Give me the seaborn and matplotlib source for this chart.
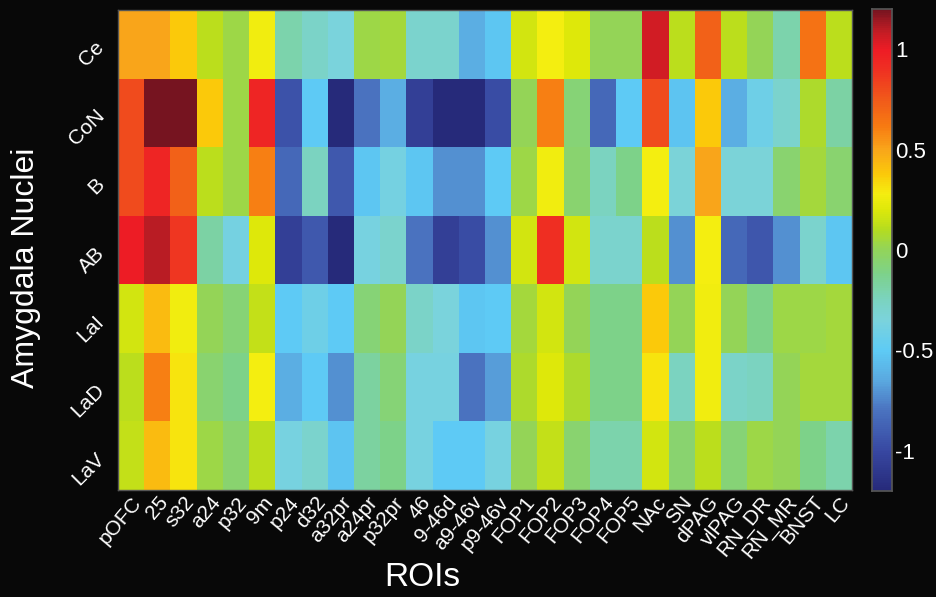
import numpy as np
import pandas as pd
import matplotlib
matplotlib.use("Agg")
import matplotlib.pyplot as plt
import seaborn as sns
from matplotlib.colors import LinearSegmentedColormap

rois = ["pOFC", "25", "s32", "a24", "p32", "9m", "p24", "d32", "a32pr", "a24pr",
        "p32pr", "46", "9-46d", "a9-46v", "p9-46v", "FOP1", "FOP2", "FOP3", "FOP4",
        "FOP5", "NAc", "SN", "dPAG", "vlPAG", "RN_DR", "RN_MR", "BNST", "LC"]
nuclei = ["Ce", "CoN", "B", "AB", "LaI", "LaD", "LaV"]

ce  = [0.50, 0.50, 0.38, 0.12, 0.03, 0.27, -0.20, -0.28, -0.35, 0.03, 0.05, -0.30, -0.30, -0.62,
       -0.52, 0.17, 0.28, 0.20, 0.00, 0.00, 1.05, 0.12, 0.72, 0.12, 0.00, -0.20, 0.65, 0.12]
con = [0.80, 1.20, 1.20, 0.38, 0.03, 0.95, -0.95, -0.50, -1.20, -0.80, -0.62, -1.05, -1.20, -1.20,
       -0.98, 0.00, 0.60, -0.07, -0.85, -0.50, 0.80, -0.53, 0.38, -0.62, -0.42, -0.30, 0.08, -0.18]
b   = [0.80, 0.95, 0.72, 0.12, 0.03, 0.60, -0.85, -0.25, -0.92, -0.52, -0.38, -0.52, -0.72, -0.72,
       -0.50, 0.03, 0.27, -0.05, -0.25, -0.12, 0.28, -0.33, 0.50, -0.33, -0.33, -0.05, 0.05, -0.05]
ab  = [1.00, 1.10, 0.88, -0.18, -0.38, 0.20, -1.05, -0.92, -1.20, -0.37, -0.30, -0.80, -1.05, -0.98,
       -0.72, 0.17, 0.90, 0.17, -0.30, -0.30, 0.12, -0.72, 0.28, -0.85, -0.93, -0.72, -0.30, -0.52]
lai = [0.17, 0.43, 0.27, 0.00, -0.07, 0.14, -0.50, -0.42, -0.50, -0.07, 0.00, -0.28, -0.35, -0.52,
       -0.50, 0.05, 0.17, 0.00, -0.12, -0.12, 0.38, 0.00, 0.27, 0.00, -0.12, 0.03, 0.03, 0.05]
lad = [0.12, 0.60, 0.30, -0.05, -0.12, 0.28, -0.62, -0.50, -0.72, -0.17, -0.07, -0.37, -0.37, -0.80,
       -0.68, 0.08, 0.20, 0.08, -0.12, -0.12, 0.30, -0.25, 0.27, -0.28, -0.25, 0.00, 0.05, 0.05]
lav = [0.14, 0.43, 0.30, 0.03, -0.05, 0.12, -0.37, -0.30, -0.53, -0.17, -0.12, -0.37, -0.50, -0.50,
       -0.37, 0.00, 0.14, -0.05, -0.20, -0.20, 0.17, -0.05, 0.12, -0.07, 0.03, 0.00, -0.12, -0.20]

vmin, vmax = -1.2, 1.2
cb_ticks = [-1, -0.5, 0, 0.5, 1]
cb_ticklabels = ["-1", "-0.5", "0", "0.5", "1"]

df = pd.DataFrame([ce, con, b, ab, lai, lad, lav], index=nuclei, columns=rois)

anchors = [(-1.2, "#262a7a"), (-1.0, "#3848a2"), (-0.8, "#4a73c0"), (-0.65, "#5aa9e0"),
           (-0.5, "#5ecbf5"), (-0.35, "#7bd3dc"), (-0.25, "#7bd3c0"), (-0.12, "#7dd28a"),
           (0.0, "#92d45a"), (0.1, "#b4dc20"), (0.2, "#dde80a"), (0.28, "#f5ee10"),
           (0.38, "#fbc90a"), (0.5, "#f9a61a"), (0.62, "#f77a12"), (0.75, "#f15a1a"),
           (0.9, "#ef3022"), (1.0, "#ee1c25"), (1.1, "#bd1c24"), (1.2, "#761420")]
cmap = LinearSegmentedColormap.from_list(
    "custom_jet", [((v - vmin) / (vmax - vmin), c) for v, c in anchors], N=256)

sns.set_theme(style="white")
plt.rcParams["font.family"] = ["Liberation Sans", "DejaVu Sans"]

bg = "#080808"
fig = plt.figure(figsize=(9.36, 5.97), dpi=100, facecolor=bg)
W, H = 936, 597
ax = fig.add_axes([118 / W, 1 - 490 / H, (852 - 118) / W, (490 - 10) / H])
cax = fig.add_axes([872 / W, 1 - 491 / H, 20 / W, (491 - 9) / H])
ax.set_facecolor(bg)

sns.heatmap(df, ax=ax, cbar_ax=cax, cmap=cmap, vmin=vmin, vmax=vmax,
            linewidths=0, cbar_kws={"ticks": cb_ticks})

for s in ax.spines.values():
    s.set_visible(True)
    s.set_color("#555555")
    s.set_linewidth(1.0)

ax.tick_params(axis="both", direction="in", length=5, width=1, color="#444444",
               top=True, right=True, bottom=True, left=True)
ax.set_xticklabels(rois, rotation=50, ha="right", va="top", rotation_mode="anchor",
                   fontsize=15, color="white")
ax.set_yticklabels(nuclei, rotation=45, ha="right", va="center", rotation_mode="anchor",
                   fontsize=15, color="white")
ax.tick_params(axis="x", pad=2)
ax.tick_params(axis="y", pad=12)
ax.set_xlabel("ROIs", fontsize=24, color="white", ha="center", va="center")
ax.xaxis.set_label_coords((422 - 118) / 734, (490 - 578) / 480)
ax.set_ylabel("Amygdala Nuclei", fontsize=23, color="white", ha="center", va="center")
ax.yaxis.set_label_coords((26 - 118) / 734, (490 - 268) / 480)

cax.set_yticklabels(cb_ticklabels)
cax.tick_params(axis="y", colors="white", labelsize=16, direction="in", length=4,
                color="#444444", pad=2)
for s in cax.spines.values():
    s.set_visible(True)
    s.set_color("#555555")

fig.savefig("out.png", dpi=100, facecolor=bg)
